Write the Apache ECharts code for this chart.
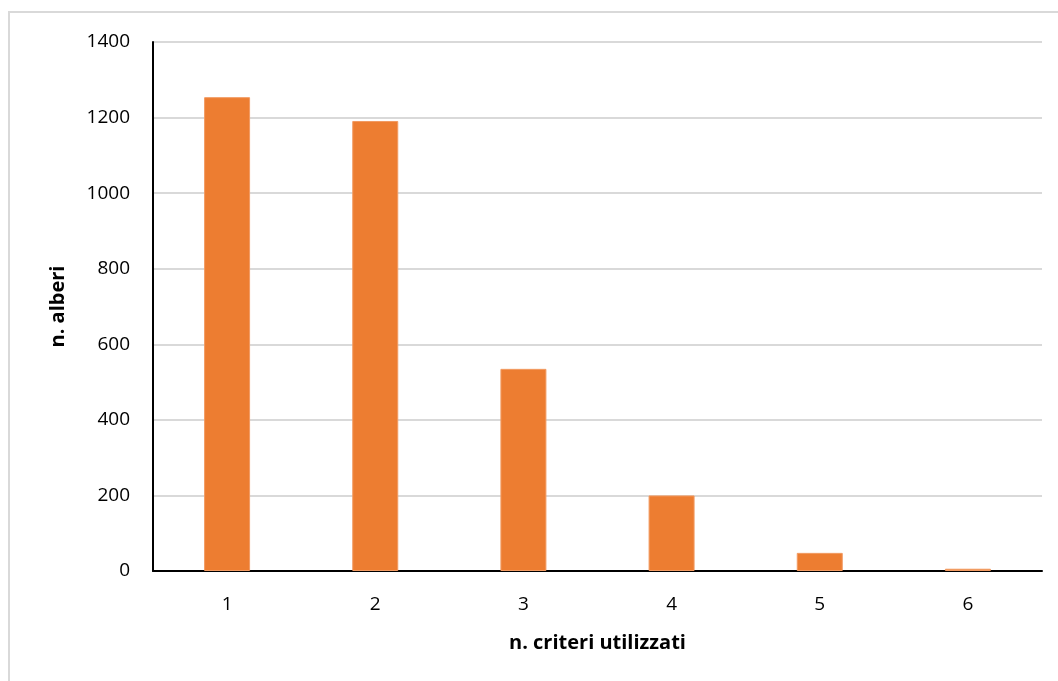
<!DOCTYPE html>
<html><head><meta charset="utf-8">
<script src="https://cdn.jsdelivr.net/npm/echarts@6/dist/echarts.min.js"></script>
<style>html,body{margin:0;padding:0;background:#fff}#c{width:1058px;height:681px;}
#frame{position:absolute;left:8px;top:11px;width:1060px;height:680px;border:2px solid #d9d9d9;box-sizing:border-box;pointer-events:none}</style>
</head><body>
<div id="c"></div><div id="frame"></div>
<script>
const categories = ['1','2','3','4','5','6'];
const alberi = [1254, 1191, 535, 200, 48, 6];
const xTitle = 'n. criteri utilizzati';
const yTitle = 'n. alberi';

const chart = echarts.init(document.getElementById('c'));
const font = "'Open Sans', 'Liberation Sans', sans-serif";
chart.setOption({
  animation: false,
  grid: {left: 153, right: 16, top: 42, bottom: 110, containLabel: false},
  xAxis: {
    type: 'category', data: categories,
    axisLine: {lineStyle: {color: '#000', width: 2}},
    axisTick: {show: false},
    axisLabel: {color: '#000', fontSize: 19, fontFamily: font, margin: 24},
    name: xTitle, nameLocation: 'middle', nameGap: 62,
    nameTextStyle: {color: '#000', fontSize: 20, fontWeight: 'bold', fontFamily: font}
  },
  yAxis: {
    type: 'value', min: 0, max: 1400, interval: 200,
    axisLine: {show: true, lineStyle: {color: '#000', width: 2}},
    axisTick: {show: false},
    splitLine: {lineStyle: {color: '#d9d9d9', width: 2}},
    axisLabel: {color: '#000', fontSize: 19, fontFamily: font, margin: 23, formatter: v => String(v)},
    name: yTitle, nameLocation: 'middle', nameGap: 85,
    nameTextStyle: {color: '#000', fontSize: 20, fontWeight: 'bold', fontFamily: font}
  },
  series: [{
    type: 'bar', data: alberi, barWidth: 46,
    itemStyle: {color: '#ED7D31', borderColor: '#F29B62', borderWidth: 1}
  }]
});
</script>
</body></html>
